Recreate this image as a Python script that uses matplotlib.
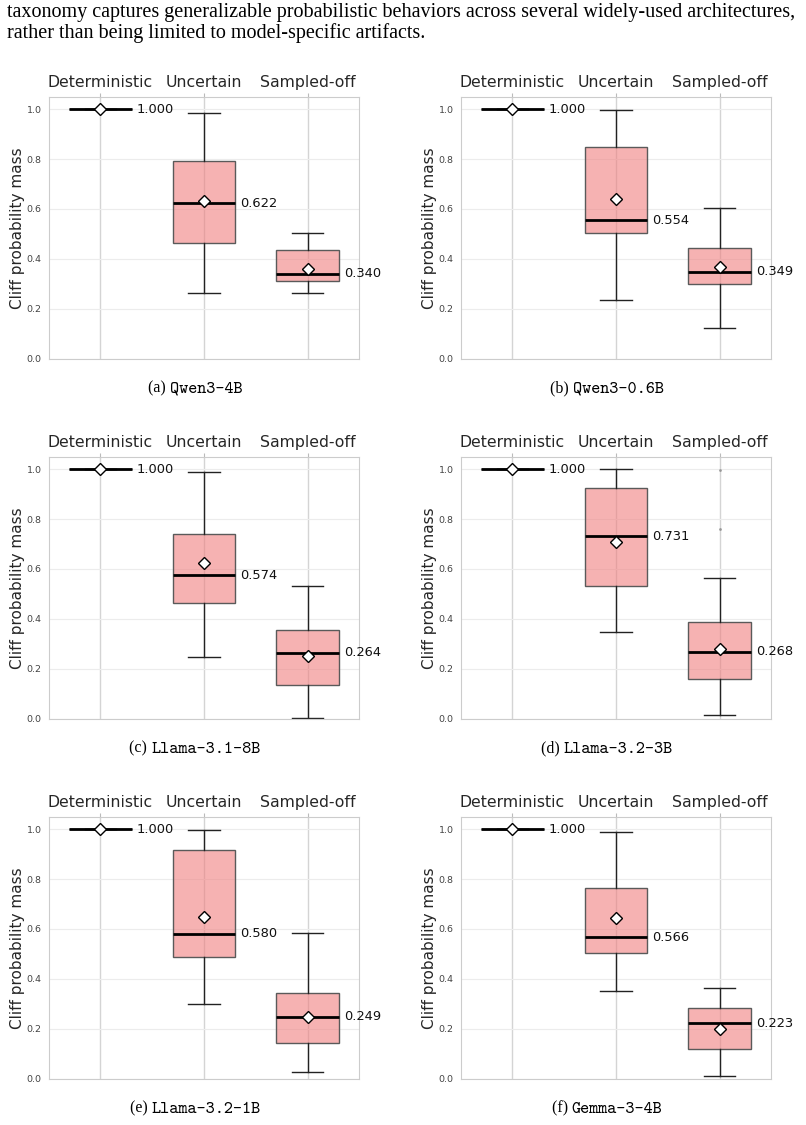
import os
import matplotlib
matplotlib.use("Agg")
import matplotlib.pyplot as plt
from matplotlib.font_manager import FontProperties
from matplotlib.ticker import FormatStrFormatter

categories = ["Deterministic", "Uncertain", "Sampled-off"]
models = ["Qwen3-4B", "Qwen3-0.6B", "Llama-3.1-8B", "Llama-3.2-3B", "Llama-3.2-1B", "Gemma-3-4B"]
tags = ["(a)", "(b)", "(c)", "(d)", "(e)", "(f)"]

medians = [[1.000, 0.622, 0.340], [1.000, 0.554, 0.349], [1.000, 0.574, 0.264],
           [1.000, 0.731, 0.268], [1.000, 0.580, 0.249], [1.000, 0.566, 0.223]]
q1 = [[1.0, 0.465, 0.310], [1.0, 0.503, 0.300], [1.0, 0.465, 0.136],
      [1.0, 0.532, 0.159], [1.0, 0.488, 0.142], [1.0, 0.505, 0.119]]
q3 = [[1.0, 0.791, 0.436], [1.0, 0.850, 0.443], [1.0, 0.742, 0.354],
      [1.0, 0.924, 0.389], [1.0, 0.916, 0.342], [1.0, 0.765, 0.283]]
whis_lo = [[1.0, 0.262, 0.262], [1.0, 0.235, 0.122], [1.0, 0.249, 0.003],
           [1.0, 0.349, 0.013], [1.0, 0.301, 0.025], [1.0, 0.353, 0.011]]
whis_hi = [[1.0, 0.984, 0.503], [1.0, 0.995, 0.605], [1.0, 0.987, 0.532],
           [1.0, 1.000, 0.564], [1.0, 0.998, 0.583], [1.0, 0.988, 0.365]]
means = [[1.0, 0.631, 0.361], [1.0, 0.642, 0.366], [1.0, 0.623, 0.253],
         [1.0, 0.709, 0.281], [1.0, 0.650, 0.247], [1.0, 0.646, 0.198]]
outliers = [[[], [], []], [[], [], []], [[], [], []],
            [[], [], [0.997, 0.762]], [[], [], []], [[], [], []]]

intro = ("taxonomy captures generalizable probabilistic behaviors across several widely-used architectures,\n"
         "rather than being limited to model-specific artifacts.")

W, H = 806, 1125
fig = plt.figure(figsize=(W / 100, H / 100), dpi=100)

serif = FontProperties(family="Liberation Serif", size=14.5)
tt = FontProperties(fname=os.path.join(matplotlib.get_data_path(), "fonts", "ttf", "cmtt10.ttf"), size=12.5)
cap_serif = FontProperties(family="Liberation Serif", size=11.5)

fig.text(7 / W, 1 - 3 / H, intro, fontproperties=serif, va="top", ha="left", linespacing=1.1)

lefts = [48.7, 460.7]
bottoms = [358.7, 718.7, 1078.7]
ax_w, ax_h = 310.6, 262.0

captions = []
for k in range(6):
    row, col = divmod(k, 2)
    ax = fig.add_axes([lefts[col] / W, 1 - bottoms[row] / H, ax_w / W, ax_h / H])
    stats = []
    for i in range(3):
        stats.append(dict(med=medians[k][i], q1=q1[k][i], q3=q3[k][i],
                          whislo=whis_lo[k][i], whishi=whis_hi[k][i],
                          mean=means[k][i], fliers=outliers[k][i]))
    ax.bxp(stats, positions=range(3), widths=0.6, patch_artist=True, showmeans=True,
           boxprops=dict(facecolor=(0.941, 0.502, 0.502, 0.6), edgecolor="#5a5a5a", lw=1),
           medianprops=dict(color="black", lw=2),
           whiskerprops=dict(color="#222222", lw=1),
           capprops=dict(color="#222222", lw=1),
           meanprops=dict(marker="D", markerfacecolor="white", markeredgecolor="black",
                          markersize=6.5, markeredgewidth=1),
           flierprops=dict(marker="o", markersize=2, markerfacecolor="#888888",
                           markeredgecolor="none", alpha=0.8))
    for i in range(3):
        ax.text(i + 0.35, medians[k][i], f"{medians[k][i]:.3f}", va="center", ha="left",
                fontsize=9.4, color="#111111")

    ax.set_xlim(-0.5, 2.5)
    ax.set_ylim(0, 1.05)
    ax.set_yticks([0, 0.2, 0.4, 0.6, 0.8, 1.0])
    ax.yaxis.set_major_formatter(FormatStrFormatter("%.1f"))
    ax.set_xticks(range(3))
    ax.set_xticklabels(categories)
    ax.xaxis.tick_top()
    ax.tick_params(axis="x", length=3, color="#bbbbbb", labelsize=11.3, labelcolor="#262626", pad=2)
    ax.tick_params(axis="y", length=0, labelsize=6.8, labelcolor="#444444", pad=5)
    ax.set_ylabel("Cliff probability mass", fontsize=11, color="#262626", labelpad=1)
    ax.set_axisbelow(True)
    ax.grid(axis="y", color="#ececec", lw=0.8)
    ax.grid(axis="x", color="#d4d4d4", lw=1)
    for s in ax.spines.values():
        s.set_color("#cccccc")
        s.set_linewidth(0.8)

    cx = (lefts[col] + ax_w / 2 - 9) / W
    cy = 1 - (bottoms[row] + 34) / H
    t1 = fig.text(cx, cy, tags[k] + " ", fontproperties=cap_serif, va="baseline", ha="left")
    t2 = fig.text(cx, cy, models[k], fontproperties=tt, va="baseline", ha="left")
    captions.append((cx, cy, t1, t2))

fig.canvas.draw()
r = fig.canvas.get_renderer()
for cx, cy, t1, t2 in captions:
    w1 = t1.get_window_extent(r).width
    w2 = t2.get_window_extent(r).width
    x0 = cx * W - (w1 + w2) / 2
    t1.set_x(x0 / W)
    t2.set_x((x0 + w1) / W)

fig.savefig("out.png", dpi=100)
